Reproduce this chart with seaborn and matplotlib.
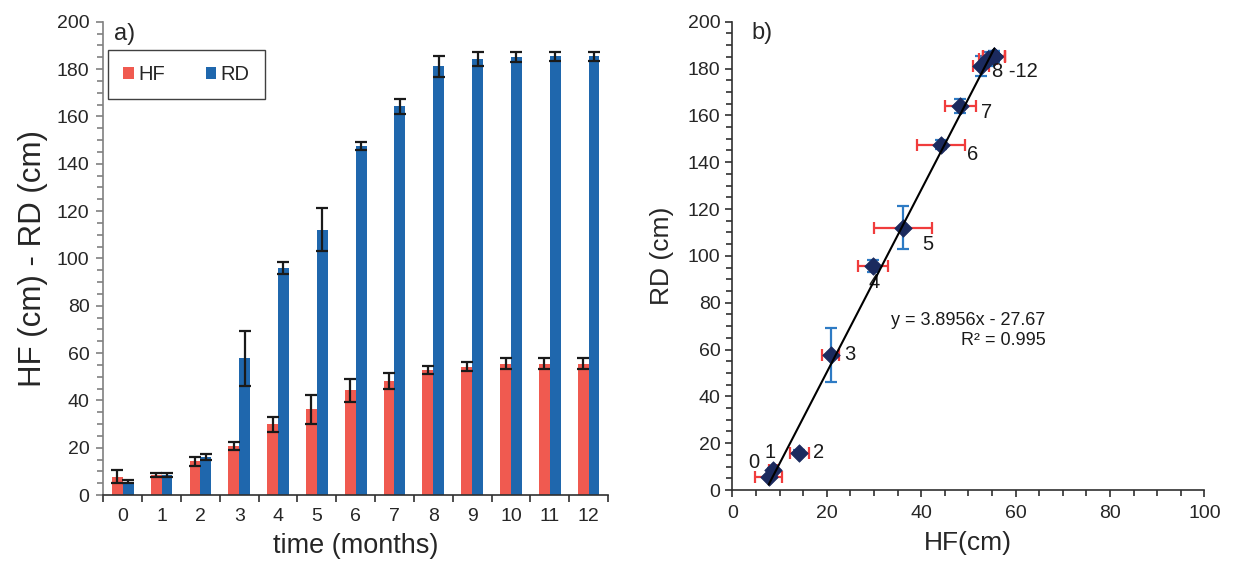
import numpy as np
import pandas as pd
import matplotlib
matplotlib.use("Agg")
import matplotlib.pyplot as plt
from matplotlib.ticker import MultipleLocator
import seaborn as sns

# ---------------- data ----------------
months = [str(m) for m in range(13)]
hf_mean = [7.7, 8.6, 14.2, 20.8, 29.8, 36.2, 44.2, 48.3, 52.7, 54.2, 55.5, 55.5, 55.5]
hf_err = [2.8, 0.8, 2.0, 1.8, 3.1, 6.2, 5.0, 3.3, 1.7, 1.9, 2.3, 2.3, 2.3]
rd_mean = [5.7, 8.5, 16.0, 57.7, 95.8, 112.1, 147.5, 164.2, 181.1, 184.1, 185.0, 185.4, 185.4]
rd_err = [0.5, 0.7, 1.2, 11.5, 2.6, 9.0, 1.8, 3.0, 4.4, 3.0, 2.0, 2.0, 2.0]
series_names = ["HF", "RD"]
point_labels = ["0", "1", "2", "3", "4", "5", "6", "7", "8 -12"]
fit_slope = 3.8956
fit_intercept = -27.67
fit_r2 = 0.995

# ---------------- style ----------------
sns.set_style("ticks")
plt.rcParams["font.family"] = ["Liberation Sans", "DejaVu Sans"]
plt.rcParams["axes.linewidth"] = 1.2

HF_COLOR = "#F05A50"
RD_COLOR = "#1F67AD"
NAVY = "#1B2A5E"
XERR_COLOR = "#F03C3C"
YERR_COLOR = "#2E7BC4"

fig = plt.figure(figsize=(12.36, 5.74), dpi=100)
ax1 = fig.add_axes([0.0836, 0.1376, 0.4083, 0.8246])
ax2 = fig.add_axes([0.5925, 0.1463, 0.3819, 0.8159])

# ---------------- panel a ----------------
df = pd.DataFrame({
    "time": months * 2,
    "value": hf_mean + rd_mean,
    "series": [series_names[0]] * len(months) + [series_names[1]] * len(months),
})
sns.barplot(data=df, x="time", y="value", hue="series", order=months,
            hue_order=series_names, palette={"HF": HF_COLOR, "RD": RD_COLOR},
            width=0.56, errorbar=None, saturation=1, ax=ax1, linewidth=0)

for cont, means, errs in zip(ax1.containers, [hf_mean, rd_mean], [hf_err, rd_err]):
    centers = [p.get_x() + p.get_width() / 2 for p in cont]
    ax1.errorbar(centers, means, yerr=errs, fmt="none", ecolor="#1a1a1a",
                 elinewidth=1.6, capsize=4.6, capthick=1.6, zorder=5)

ax1.set_ylim(0, 200)
ax1.set_xlim(-0.5, 12.5)
ax1.yaxis.set_major_locator(MultipleLocator(20))
ax1.yaxis.set_minor_locator(MultipleLocator(5))
ax1.set_xticks(np.arange(13))
ax1.set_xticks(np.arange(-0.5, 13.0, 1.0), minor=True)
ax1.tick_params(axis="x", which="major", length=0, pad=9, labelsize=14)
ax1.tick_params(axis="x", which="minor", length=5, width=1.2, direction="out", color="#303030")
ax1.tick_params(axis="y", which="major", length=5, width=1.2, direction="out",
                labelsize=14, pad=5, color="#808080")
ax1.tick_params(axis="y", which="minor", length=4, width=1.2, direction="out", color="#808080")
sns.despine(ax=ax1)
ax1.spines["left"].set_color("#808080")
ax1.spines["bottom"].set_color("#303030")
ax1.set_xlabel("time (months)", fontsize=19.5, labelpad=6)
ax1.set_ylabel("HF (cm) - RD (cm)", fontsize=22.5, labelpad=6)
ax1.text(0.022, 0.975, "a)", transform=ax1.transAxes, fontsize=17, va="center", ha="left")

handles, labels = ax1.get_legend_handles_labels()
leg = ax1.legend(handles, labels, ncol=2, loc="upper left", bbox_to_anchor=(0.01, 0.94),
                 frameon=True, fancybox=False, edgecolor="#404040", framealpha=1,
                 fontsize=14.5, handlelength=0.5, handleheight=0.5, handletextpad=0.25,
                 columnspacing=2.0, borderpad=0.75, borderaxespad=0)
leg.get_frame().set_linewidth(1.0)

# ---------------- panel b ----------------
ax2.errorbar(hf_mean, rd_mean, yerr=rd_err, fmt="none", ecolor=YERR_COLOR,
             elinewidth=1.6, capsize=4.3, capthick=1.6, zorder=2)
ax2.errorbar(hf_mean, rd_mean, xerr=hf_err, fmt="none", ecolor=XERR_COLOR,
             elinewidth=1.6, capsize=4.3, capthick=1.6, zorder=2)
pts = pd.DataFrame({"HF": hf_mean, "RD": rd_mean})
sns.scatterplot(data=pts, x="HF", y="RD", marker="D", s=80, color=NAVY,
                edgecolor=NAVY, linewidth=0.5, ax=ax2, zorder=3)
xfit = np.array([min(hf_mean), max(hf_mean)])
ax2.plot(xfit, fit_slope * xfit + fit_intercept, color="black", lw=1.5, zorder=4)

offsets = [(-11, 10), (-2, 13), (14, 0), (14, 0), (1, -12), (18, -12), (23, -7), (19, -5), (24, -4)]
for i, (lab, off) in enumerate(zip(point_labels, offsets)):
    ax2.annotate(lab, (hf_mean[i], rd_mean[i]), xytext=off, textcoords="offset points",
                 ha="center", va="center", fontsize=14.5, color="#1a1a1a")

ax2.text(66.3, 68, f"y = {fit_slope}x - {abs(fit_intercept)}\nR² = {fit_r2}",
         ha="right", va="center", multialignment="right", fontsize=13,
         linespacing=1.2, color="#1a1a1a")

ax2.set_xlim(0, 100)
ax2.set_ylim(0, 200)
ax2.xaxis.set_major_locator(MultipleLocator(20))
ax2.xaxis.set_minor_locator(MultipleLocator(5))
ax2.yaxis.set_major_locator(MultipleLocator(20))
ax2.yaxis.set_minor_locator(MultipleLocator(5))
ax2.tick_params(which="major", length=5, width=1.2, direction="out", labelsize=14, color="#303030")
ax2.tick_params(which="minor", length=4, width=1.2, direction="out", color="#303030")
ax2.tick_params(axis="x", pad=6)
sns.despine(ax=ax2)
for s in ("left", "bottom"):
    ax2.spines[s].set_color("#303030")
ax2.set_xlabel("HF(cm)", fontsize=19, labelpad=6)
ax2.set_ylabel("RD (cm)", fontsize=19, labelpad=10)
ax2.text(0.04, 0.976, "b)", transform=ax2.transAxes, fontsize=17, va="center", ha="left")

fig.savefig("out.png", dpi=100)
